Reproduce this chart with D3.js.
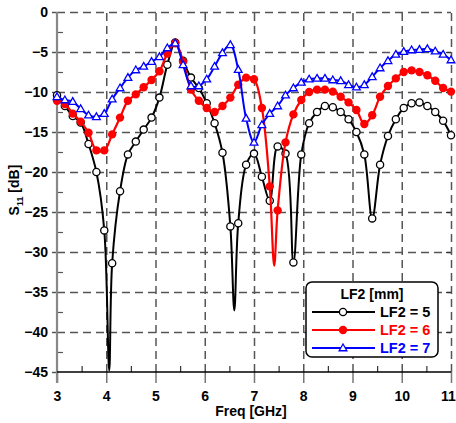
<!DOCTYPE html>
<html>
<head>
<meta charset="utf-8">
<script src="https://cdn.jsdelivr.net/npm/d3@7"></script>
<style>
  body { margin: 0; background: #fff; }
  svg text { font-family: "Liberation Sans", Arial, sans-serif; font-weight: bold; }
</style>
</head>
<body>
<svg id="chart" width="456" height="423"></svg>
<script>
// marker frequencies (GHz)
var freq = [3.00, 3.16, 3.32, 3.48, 3.64, 3.80, 3.96, 4.12, 4.28, 4.44,
            4.60, 4.76, 4.92, 5.08, 5.24, 5.40, 5.56, 5.72, 5.88, 6.04,
            6.20, 6.36, 6.52, 6.68, 6.84, 7.00, 7.16, 7.32, 7.48, 7.64,
            7.80, 7.96, 8.12, 8.28, 8.44, 8.60, 8.76, 8.92, 9.08, 9.24,
            9.40, 9.56, 9.72, 9.88, 10.04, 10.20, 10.36, 10.52, 10.68, 10.84, 11.00];

var lf2_5 = [-10.4, -11.75, -13.0, -13.8, -16.5, -20.0, -27.3, -31.4, -22.4, -17.8,
             -16.2, -14.7, -13.2, -10.7, -6.6, -3.8, -6.1, -8.2, -9.5, -11.4,
             -13.9, -17.6, -26.8, -26.4, -19.1, -17.7, -20.6, -23.6, -16.8, -17.7,
             -31.3, -17.8, -13.9, -12.5, -11.75, -11.9, -12.5, -13.4, -15.0, -17.8,
             -25.8, -19.1, -15.5, -13.4, -12.0, -11.4, -11.3, -11.75, -12.5, -13.6, -15.4];
var lf2_5dips = [[4.06, -44.8], [6.60, -37.3]];

var lf2_6 = [-11.1, -11.5, -12.7, -13.7, -15.1, -17.3, -17.3, -15.3, -13.2, -11.1,
             -10.3, -9.4, -8.5, -7.4, -5.2, -3.9, -6.2, -9.7, -11.1, -12.0,
             -12.5, -11.75, -10.7, -9.1, -8.2, -8.4, -12.0, -21.8, -24.8, -16.3,
             -12.8, -11.0, -10.0, -9.7, -9.7, -9.95, -10.6, -11.3, -12.25, -14.0,
             -12.9, -10.6, -9.25, -8.3, -7.5, -7.3, -7.5, -7.9, -8.6, -9.5, -9.95];
var lf2_6dips = [[7.41, -31.7]];

var lf2_7 = [-10.6, -11.0, -11.2, -12.1, -12.9, -13.1, -12.7, -10.9, -9.5, -8.2,
             -7.25, -6.8, -6.2, -5.6, -4.5, -3.9, -6.6, -9.25, -9.25, -8.4,
             -6.8, -5.1, -4.1, -7.2, -13.3, -16.3, -14.1, -12.7, -11.75, -10.4,
             -9.5, -8.8, -8.4, -8.3, -8.3, -8.5, -8.6, -9.1, -9.4, -9.1,
             -8.1, -7.0, -6.1, -5.3, -4.95, -4.75, -4.7, -4.6, -4.9, -5.3, -6.0];
var lf2_7dips = [];

var xTicks = [3, 4, 5, 6, 7, 8, 9, 10, 11];
var xMinor = [3.5, 4.5, 5.5, 6.5, 7.5, 8.5, 9.5, 10.5];
var yTicks = [0, -5, -10, -15, -20, -25, -30, -35, -40, -45];
var yMinor = [-2.5, -7.5, -12.5, -17.5, -22.5, -27.5, -32.5, -37.5, -42.5];
var seriesNames = ["LF2 = 5", "LF2 = 6", "LF2 = 7"];
var legendTitle = "LF2 [mm]";

var svg = d3.select("#chart");
var pL = 57, pR = 451, pT = 12, pB = 372;

var x = d3.scaleLinear().domain([3, 11]).range([pL, pR]);
var y = d3.scaleLinear().domain([0, -45]).range([pT, pB]);

// dashed grid
svg.append("g")
  .attr("transform", "translate(0," + pB + ")")
  .call(d3.axisBottom(x).tickValues(xTicks.slice(1)).tickSize(-(pB - pT)).tickFormat(""))
  .call(function(g) {
    g.select(".domain").remove();
    g.selectAll("line").attr("stroke", "#555").attr("stroke-width", 1.5).attr("stroke-dasharray", "8,5");
  });
svg.append("g")
  .attr("transform", "translate(" + pL + ",0)")
  .call(d3.axisLeft(y).tickValues(yTicks.slice(0, -1)).tickSize(-(pR - pL)).tickFormat(""))
  .call(function(g) {
    g.select(".domain").remove();
    g.selectAll("line").attr("stroke", "#555").attr("stroke-width", 1.5).attr("stroke-dasharray", "8,5");
  });

// x axis
var xAxis = svg.append("g")
  .attr("transform", "translate(0," + pB + ")")
  .call(d3.axisBottom(x).tickValues(xTicks).tickSize(11).tickPadding(8).tickFormat(d3.format("d")));
xAxis.select(".domain").remove();
xAxis.selectAll("line").attr("stroke", "#777").attr("stroke-width", 1.5);
xAxis.selectAll("text").attr("font-size", 14).attr("fill", "#000")
  .attr("dx", function(d) { return d === 11 ? -3 : 0; });

svg.append("g")
  .attr("transform", "translate(0," + pB + ")")
  .call(d3.axisTop(x).tickValues(xMinor).tickSize(6).tickFormat(""))
  .call(function(g) {
    g.select(".domain").remove();
    g.selectAll("line").attr("stroke", "#333").attr("stroke-width", 1.2);
  });

// y axis
var yAxis = svg.append("g")
  .attr("transform", "translate(" + pL + ",0)")
  .call(d3.axisLeft(y).tickValues(yTicks).tickSize(5).tickPadding(4).tickFormat(d3.format("d")));
yAxis.select(".domain").remove();
yAxis.selectAll("line").attr("stroke", "#555").attr("stroke-width", 1.5);
yAxis.selectAll("text").attr("font-size", 14).attr("fill", "#000");

svg.append("g")
  .attr("transform", "translate(" + pL + ",0)")
  .call(d3.axisRight(y).tickValues(yMinor).tickSize(6).tickFormat(""))
  .call(function(g) {
    g.select(".domain").remove();
    g.selectAll("line").attr("stroke", "#555").attr("stroke-width", 1.2);
  });

svg.append("g")
  .attr("transform", "translate(" + pR + ",0)")
  .call(d3.axisLeft(y).tickValues(yTicks.slice(1, -1)).tickSize(5).tickFormat(""))
  .call(function(g) {
    g.select(".domain").remove();
    g.selectAll("line").attr("stroke", "#333").attr("stroke-width", 1.2);
  });

// axis lines
svg.append("line").attr("x1", pL).attr("x2", pL).attr("y1", pT).attr("y2", pB + 11)
  .attr("stroke", "#888").attr("stroke-width", 2.2);
svg.append("line").attr("x1", pL).attr("x2", pR).attr("y1", pB).attr("y2", pB)
  .attr("stroke", "#000").attr("stroke-width", 1.5);

// curves
var line = d3.line()
  .x(function(d) { return x(d[0]); })
  .y(function(d) { return y(d[1]); })
  .curve(d3.curveCatmullRom.alpha(0.5));

function pts(vals) {
  return freq.map(function(f, i) { return [f, vals[i]]; });
}

function drawSeries(vals, dips, color, marker, width) {
  var markers = pts(vals);
  var all = markers.concat(dips).sort(function(a, b) { return a[0] - b[0]; });
  var g = svg.append("g");
  g.append("path").datum(all)
    .attr("d", line)
    .attr("fill", "none")
    .attr("stroke", color)
    .attr("stroke-width", width);
  drawMarkers(g, markers, color, marker);
}

function drawMarkers(g, data, color, marker) {
  if (marker === "circle") {
    g.selectAll("circle").data(data).enter().append("circle")
      .attr("cx", function(d) { return x(d[0]); })
      .attr("cy", function(d) { return y(d[1]); })
      .attr("r", 3.6)
      .attr("fill", "#fff").attr("stroke", color).attr("stroke-width", 1.3);
  } else if (marker === "dot") {
    g.selectAll("circle").data(data).enter().append("circle")
      .attr("cx", function(d) { return x(d[0]); })
      .attr("cy", function(d) { return y(d[1]); })
      .attr("r", 4.2)
      .attr("fill", color);
  } else {
    g.selectAll("path.tri").data(data).enter().append("path")
      .attr("class", "tri")
      .attr("d", d3.symbol().type(d3.symbolTriangle).size(26))
      .attr("transform", function(d) { return "translate(" + x(d[0]) + "," + (y(d[1]) + 0.5) + ")"; })
      .attr("fill", "#fff").attr("stroke", color).attr("stroke-width", 1.3);
  }
}

drawSeries(lf2_5, lf2_5dips, "#000", "circle", 2);
drawSeries(lf2_6, lf2_6dips, "#ff0000", "dot", 2.2);
drawSeries(lf2_7, lf2_7dips, "#0000ff", "tri", 2);

// axis titles
svg.append("text")
  .attr("x", 251).attr("y", 416)
  .attr("text-anchor", "middle")
  .attr("font-size", 14)
  .text("Freq [GHz]");

var yt = svg.append("text")
  .attr("transform", "translate(19,190) rotate(-90)")
  .attr("text-anchor", "middle")
  .attr("font-size", 14);
yt.append("tspan").text("S");
yt.append("tspan").attr("font-size", 9).attr("dy", 4).text("11");
yt.append("tspan").attr("dy", -4).text(" [dB]");

// legend
var lg = svg.append("g");
lg.append("rect")
  .attr("x", 306).attr("y", 282).attr("width", 132).attr("height", 75)
  .attr("rx", 6).attr("ry", 6)
  .attr("fill", "#fff").attr("stroke", "#000").attr("stroke-width", 1.5);
lg.append("text")
  .attr("x", 372).attr("y", 299)
  .attr("text-anchor", "middle")
  .attr("font-size", 14)
  .text(legendTitle);

var legendColors = ["#000", "#ff0000", "#0000ff"];
var legendMarkers = ["circle", "dot", "tri"];
var rowY = [312, 330, 348];
seriesNames.forEach(function(name, i) {
  var row = lg.append("g");
  row.append("line")
    .attr("x1", 312).attr("x2", 375).attr("y1", rowY[i]).attr("y2", rowY[i])
    .attr("stroke", legendColors[i]).attr("stroke-width", 2);
  drawMarkers(row, [[x.invert(343), y.invert(rowY[i])]], legendColors[i], legendMarkers[i]);
  row.append("text")
    .attr("x", 380).attr("y", rowY[i] + 5)
    .attr("font-size", 14.5)
    .attr("fill", legendColors[i])
    .text(name);
});
</script>
</body>
</html>
